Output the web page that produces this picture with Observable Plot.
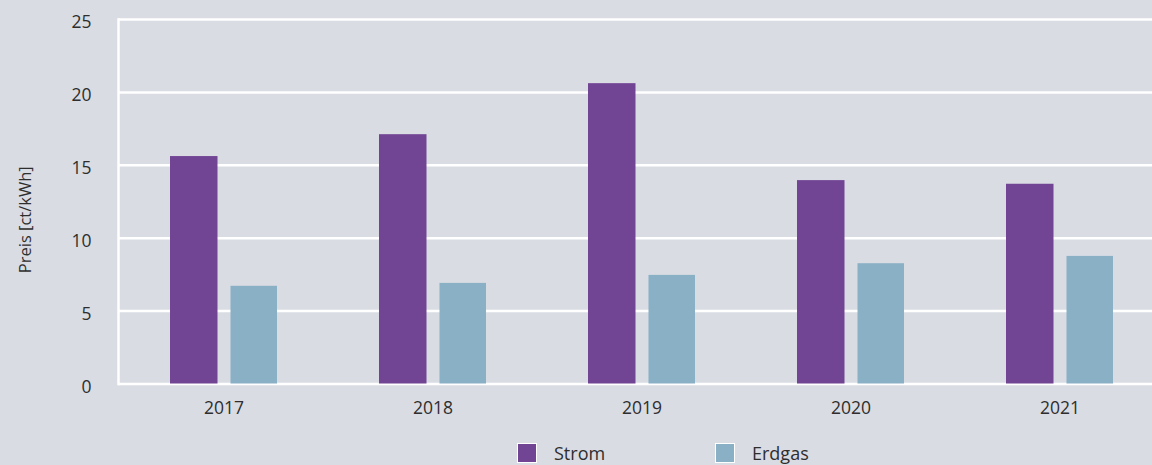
<!DOCTYPE html>
<html>
<head>
<meta charset="utf-8">
<script src="https://cdn.jsdelivr.net/npm/d3@7"></script>
<script src="https://cdn.jsdelivr.net/npm/@observablehq/plot@0.6"></script>
<style>
  html, body { margin: 0; padding: 0; background: #d9dce3; overflow: hidden; }
  body { width: 1152px; height: 465px; font-family: "Open Sans", sans-serif; color: #2e2e2e; }
  #legend { display: flex; align-items: center; padding-top: 8px; margin-left: 517px; font-size: 18px; line-height: 18px; }
  #legend .item { display: flex; align-items: center; }
  #legend .item:first-child { width: 198px; }
  #legend .sw { width: 18px; height: 18px; border: 1.5px solid #fff; box-sizing: content-box; margin-right: 17px; }
  #legend span { display: block; line-height: 18px; }
</style>
</head>
<body>
<div id="chart"></div>
<div id="legend"></div>
<script>
const years = ["2017", "2018", "2019", "2020", "2021"];
const series = ["Strom", "Erdgas"];
const strom = [15.6, 17.1, 20.6, 13.95, 13.7];
const erdgas = [6.7, 6.9, 7.45, 8.25, 8.75];
const colors = ["#724594", "#89b0c5"];
const yTicks = [0, 5, 10, 15, 20, 25];
const yLabel = "Preis [ct/kWh]";

const rows = [];
years.forEach((y, i) => {
  rows.push({year: y, series: "Strom", value: strom[i]});
  rows.push({year: y, series: "Erdgas", value: erdgas[i]});
});

const chart = Plot.plot({
  width: 1152,
  height: 435,
  marginTop: 19,
  marginBottom: 51.5,
  marginLeft: 118,
  marginRight: 0,
  style: {background: "#d9dce3", fontFamily: "Open Sans, sans-serif", fontSize: "17.5px", color: "#2e2e2e"},
  x: {domain: years, range: [117.25, 1164.75], padding: 0},
  y: {domain: [0, 25]},
  color: {domain: series, range: colors},
  marks: [
    Plot.gridY(yTicks, {stroke: "#fff", strokeOpacity: 1, strokeWidth: 2.5}),
    Plot.frame({anchor: "left", stroke: "#fff", strokeWidth: 2.5}),
    Plot.barY(rows.filter(d => d.series === "Strom"), {x: "year", y: "value", fill: "series", insetLeft: 51, insetRight: 110.5}),
    Plot.barY(rows.filter(d => d.series === "Erdgas"), {x: "year", y: "value", fill: "series", insetLeft: 111.5, insetRight: 51}),
    Plot.axisY(yTicks, {tickSize: 0, tickPadding: 27, dy: 3, label: null, fill: "#2e2e2e", fontSize: 17.5}),
    Plot.axisX({tickSize: 0, tickPadding: 18, label: null, fill: "#2e2e2e", fontSize: 17.5}),
    Plot.text([yLabel], {text: d => d, frameAnchor: "left", dx: -93, dy: 18, rotate: -90, textAnchor: "middle", lineAnchor: "middle", fontSize: 16.5, fill: "#2e2e2e"})
  ]
});
document.getElementById("chart").appendChild(chart);

const cs = chart.scale("color");
const legend = document.getElementById("legend");
cs.domain.forEach((name, i) => {
  const item = document.createElement("div");
  item.className = "item";
  const sw = document.createElement("div");
  sw.className = "sw";
  sw.style.background = cs.range[i];
  const lab = document.createElement("span");
  lab.textContent = name;
  item.appendChild(sw);
  item.appendChild(lab);
  legend.appendChild(item);
});
</script>
</body>
</html>
